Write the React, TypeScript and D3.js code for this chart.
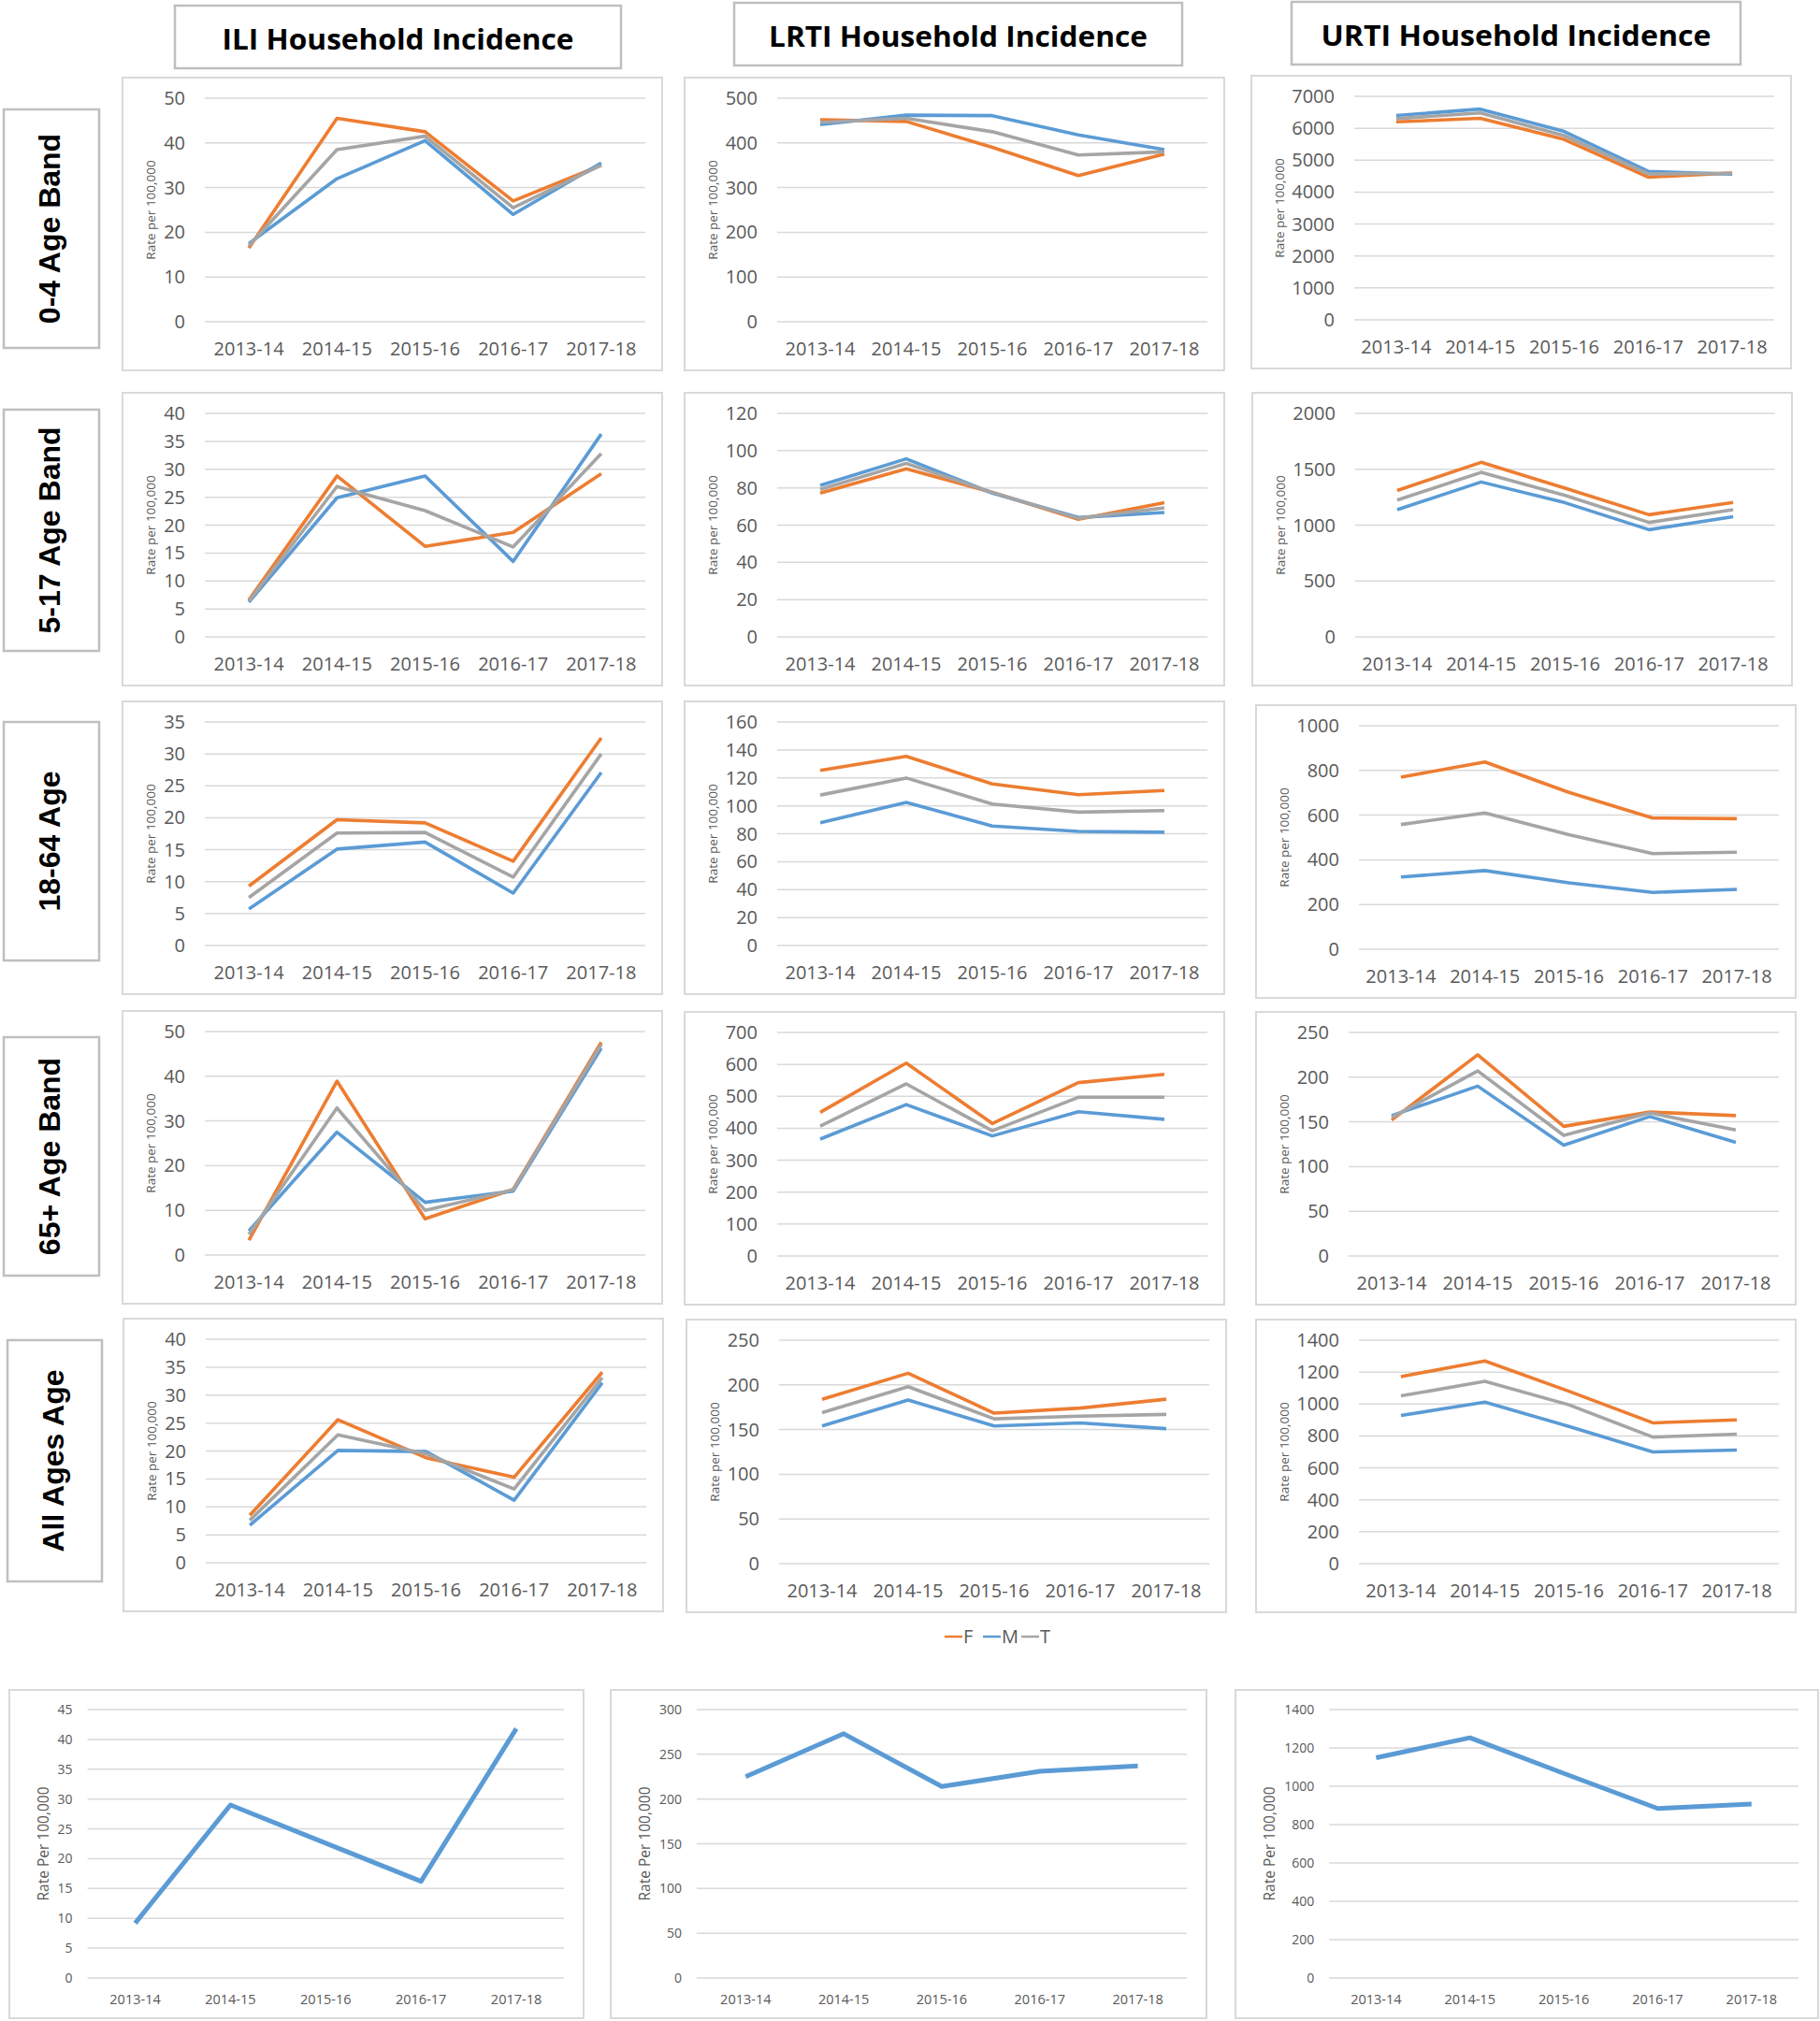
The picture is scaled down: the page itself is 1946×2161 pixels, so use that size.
import React from "react";
import * as d3 from "d3";

// ---------- categories / labels ----------
const seasons = ["2013-14", "2014-15", "2015-16", "2016-17", "2017-18"];
const seriesKeys = ["F", "M", "T"];
const seriesColors: Record<string, string> = { F: "#ED7D31", M: "#5B9BD5", T: "#A5A5A5" };
const columnTitles = ["ILI Household Incidence", "LRTI Household Incidence", "URTI Household Incidence"];
const rowLabels = ["0-4 Age Band", "5-17 Age Band", "18-64 Age", "65+ Age Band", "All Ages Age"];
const axisTitleTop = "Rate per 100,000";
const axisTitleBottom = "Rate Per 100,000";

// ---------- series values (rate per 100,000) ----------
// ILI
const ili_0_4 = { F: [16.5, 45.5, 42.5, 27, 35], M: [17.5, 32, 40.5, 24, 35.5], T: [17, 38.5, 41.5, 25.5, 35] };
const ili_5_17 = { F: [6.6, 28.8, 16.2, 18.7, 29.2], M: [6.2, 24.9, 28.8, 13.5, 36.3], T: [6.4, 26.9, 22.6, 16.1, 32.8] };
const ili_18_64 = { F: [9.3, 19.7, 19.2, 13.2, 32.5], M: [5.7, 15.1, 16.2, 8.2, 27.1], T: [7.5, 17.6, 17.7, 10.7, 30.0] };
const ili_65 = { F: [3.3, 38.9, 8.1, 14.7, 47.6], M: [5.4, 27.5, 11.8, 14.3, 46.3], T: [4.6, 32.9, 10.0, 14.6, 47.1] };
const ili_all = { F: [8.5, 25.6, 18.8, 15.3, 34.1], M: [6.7, 20.1, 19.9, 11.2, 32.2], T: [7.6, 22.9, 19.5, 13.2, 33.1] };
// LRTI
const lrti_0_4 = { F: [452, 448, 390, 327, 375], M: [441, 462, 461, 418, 385], T: [446, 455, 425, 373, 380] };
const lrti_5_17 = { F: [77.2, 90.2, 77.6, 63.1, 72], M: [81.3, 95.6, 77.2, 64.1, 66.8], T: [79.2, 93.1, 77.6, 63.7, 69.3] };
const lrti_18_64 = { F: [125.4, 135.4, 115.7, 108, 111], M: [87.8, 102.4, 85.5, 81.7, 81.1], T: [107.7, 119.9, 101.3, 95.5, 96.6] };
const lrti_65 = { F: [450, 604, 415, 543, 569], M: [366, 474, 376, 452, 428], T: [407, 539, 392, 497, 497] };
const lrti_all = { F: [183.8, 213, 168.4, 174, 184], M: [154, 183, 154, 157.5, 151], T: [169, 198, 162, 165, 167] };
// URTI
const urti_0_4 = { F: [6200, 6310, 5650, 4470, 4600], M: [6400, 6600, 5900, 4650, 4560], T: [6300, 6480, 5770, 4570, 4590] };
const urti_5_17 = { F: [1310, 1562, 1330, 1093, 1203], M: [1138, 1386, 1200, 959, 1076], T: [1224, 1472, 1265, 1024, 1138] };
const urti_18_64 = { F: [770, 838, 702, 587, 584], M: [323, 352, 297, 254, 268], T: [558, 610, 513, 428, 434] };
const urti_65 = { F: [152, 225, 145, 161, 157], M: [157, 190, 124, 156, 127], T: [155, 207, 135, 160, 141] };
const urti_all = { F: [1172, 1270, 1080, 882, 901], M: [928, 1012, 860, 700, 712], T: [1051, 1142, 995, 793, 811] };
// Bottom row (single series)
const iliOverall = [9.2, 29.0, 22.6, 16.2, 41.8];
const lrtiOverall = [225, 273, 214, 231, 237];
const urtiOverall = [1149, 1253, 1067, 884, 907];

// ---------- axis maxima / tick steps ----------
const iliMax = [50, 40, 35, 50, 40];
const iliStep = [10, 5, 5, 10, 5];
const lrtiMax = [500, 120, 160, 700, 250];
const lrtiStep = [100, 20, 20, 100, 50];
const urtiMax = [7000, 2000, 1000, 250, 1400];
const urtiStep = [1000, 500, 200, 50, 200];
const bottomMax = [45, 300, 1400];
const bottomStep = [5, 50, 200];

const gridData = [
  [ili_0_4, lrti_0_4, urti_0_4],
  [ili_5_17, lrti_5_17, urti_5_17],
  [ili_18_64, lrti_18_64, urti_18_64],
  [ili_65, lrti_65, urti_65],
  [ili_all, lrti_all, urti_all],
];
const gridMax = [0, 1, 2, 3, 4].map((r) => [iliMax[r], lrtiMax[r], urtiMax[r]]);
const gridStep = [0, 1, 2, 3, 4].map((r) => [iliStep[r], lrtiStep[r], urtiStep[r]]);
const bottomData = [iliOverall, lrtiOverall, urtiOverall];

// ---------- layout ----------
const W = 1946;
const H = 2161;
const panelX = [
  [131, 732, 1338],
  [131, 732, 1339],
  [131, 732, 1343],
  [131, 732, 1343],
  [132, 734, 1343],
];
const panelY = [
  [83, 83, 81],
  [420, 420, 420],
  [750, 750, 754],
  [1081, 1082, 1082],
  [1410, 1411, 1411],
];
const panelW = 577;
const panelH = 313;
const titleBoxes = [
  { x: 187, y: 6, w: 477, h: 67 },
  { x: 785, y: 3, w: 479, h: 67 },
  { x: 1381, y: 2, w: 480, h: 67 },
];
const titleTextLen = [376, 405, 417];
const rowBoxes = [
  { x: 4, y: 117, w: 102, h: 255 },
  { x: 4, y: 438, w: 102, h: 258 },
  { x: 4, y: 772, w: 102, h: 255 },
  { x: 4, y: 1109, w: 102, h: 255 },
  { x: 8, y: 1433, w: 101, h: 258 },
];
const bottomPanels = [
  { x: 10, y: 1807, w: 614, h: 351 },
  { x: 653, y: 1807, w: 637, h: 351 },
  { x: 1321, y: 1807, w: 623, h: 351 },
];

const FONT = "'Open Sans', 'Noto Sans', sans-serif";
const TEXT = "#595959";
const GRID = "#d9d9d9";

function digitsOf(n: number) {
  return String(n).length;
}

function Panel(props: {
  x: number; y: number; w: number; h: number;
  series: { key: string; values: number[]; color: string }[];
  max: number; step: number; big: boolean;
}) {
  const { x, y, w, h, series, max, step, big } = props;
  const d = digitsOf(max);
  const plotLeft = big ? x + 66 + d * 11 : x + 67 + d * 8.3;
  const plotRight = big ? x + w - 18 : x + w - 21;
  const plotTop = y + (big ? 22 : 21);
  const plotBottom = big ? y + 261 : y + 308;
  const yScale = d3.scaleLinear().domain([0, max]).range([plotBottom, plotTop]);
  const xScale = d3.scalePoint<string>().domain(seasons).range([plotLeft, plotRight]).padding(0.5);
  const ticks = d3.range(0, max + step / 2, step);
  const line = d3
    .line<number>()
    .x((_, i) => xScale(seasons[i]) as number)
    .y((v) => yScale(v));
  const tickFs = big ? 20 : 14;
  const catFs = big ? 20 : 14.5;
  const titleFs = big ? 13.5 : 15.5;
  return (
    <g>
      <rect x={x} y={y} width={w} height={h} fill="#fff" stroke={GRID} strokeWidth={2} />
      {ticks.map((t) => (
        <g key={t}>
          <line x1={plotLeft} x2={plotRight} y1={yScale(t)} y2={yScale(t)} stroke={GRID} strokeWidth={1.5} />
          <text
            x={plotLeft - (big ? 21 : 16)}
            y={yScale(t) + (big ? 7 : 5)}
            textAnchor="end"
            fontSize={tickFs}
            fill={TEXT}
            fontFamily={FONT}
          >
            {t}
          </text>
        </g>
      ))}
      {seasons.map((s) => (
        <text
          key={s}
          x={xScale(s)}
          y={plotBottom + (big ? 36 : 28)}
          textAnchor="middle"
          fontSize={catFs}
          fill={TEXT}
          fontFamily={FONT}
        >
          {s}
        </text>
      ))}
      <text
        transform={`translate(${x + (big ? 30 : 36)},${(plotTop + plotBottom) / 2}) rotate(-90)`}
        textAnchor="middle"
        dominantBaseline="central"
        fontSize={titleFs}
        fill={TEXT}
        fontFamily={FONT}
      >
        {big ? axisTitleTop : axisTitleBottom}
      </text>
      {series.map((s) => (
        <path
          key={s.key}
          d={line(s.values) || ""}
          fill="none"
          stroke={s.color}
          strokeWidth={big ? 3.6 : 5}
          strokeLinejoin="round"
        />
      ))}
    </g>
  );
}

export default function App() {
  return (
    <div style={{ position: "absolute", left: 0, top: 0, width: W, height: H, background: "#fff" }}>
      <svg width={W} height={H} viewBox={`0 0 ${W} ${H}`} style={{ display: "block" }}>
        <rect x={0} y={0} width={W} height={H} fill="#fff" />
        {/* column titles */}
        {columnTitles.map((t, i) => {
          const b = titleBoxes[i];
          return (
            <g key={t}>
              <rect x={b.x} y={b.y} width={b.w} height={b.h} fill="#fff" stroke="#bfbfbf" strokeWidth={2.5} />
              <text
                x={b.x + b.w / 2}
                y={b.y + 47}
                textAnchor="middle"
                fontSize={31}
                fontWeight={700}
                fontFamily={FONT}
                fill="#000"
                textLength={titleTextLen[i]}
                lengthAdjust="spacingAndGlyphs"
              >
                {t}
              </text>
            </g>
          );
        })}
        {/* row labels */}
        {rowLabels.map((t, i) => {
          const b = rowBoxes[i];
          return (
            <g key={t}>
              <rect x={b.x} y={b.y} width={b.w} height={b.h} fill="#fff" stroke="#bfbfbf" strokeWidth={2.5} />
              <text
                transform={`translate(${b.x + b.w / 2 + 9},${b.y + b.h / 2}) rotate(-90)`}
                textAnchor="middle"
                fontSize={32}
                fontWeight={700}
                fontFamily="'Liberation Sans', Arial, sans-serif"
                fill="#000"
              >
                {t}
              </text>
            </g>
          );
        })}
        {/* grid of panels */}
        {gridData.map((row, r) =>
          row.map((pd, c) => (
            <Panel
              key={`${r}-${c}`}
              x={panelX[r][c]}
              y={panelY[r][c]}
              w={panelW}
              h={panelH}
              max={gridMax[r][c]}
              step={gridStep[r][c]}
              big={true}
              series={seriesKeys.map((k) => ({ key: k, values: (pd as any)[k], color: seriesColors[k] }))}
            />
          ))
        )}
        {/* legend */}
        <g fontFamily={FONT} fontSize={20} fill={TEXT}>
          {seriesKeys.map((k, i) => {
            const lx = 1010 + i * 41;
            return (
              <g key={k}>
                <line x1={lx} x2={lx + 19} y1={1750} y2={1750} stroke={seriesColors[k]} strokeWidth={2.5} />
                <text x={lx + 20} y={1757}>
                  {k}
                </text>
              </g>
            );
          })}
        </g>
        {/* bottom row */}
        {bottomPanels.map((b, i) => (
          <Panel
            key={`b${i}`}
            x={b.x}
            y={b.y}
            w={b.w}
            h={b.h}
            max={bottomMax[i]}
            step={bottomStep[i]}
            big={false}
            series={[{ key: "M", values: bottomData[i], color: seriesColors.M }]}
          />
        ))}
      </svg>
    </div>
  );
}
